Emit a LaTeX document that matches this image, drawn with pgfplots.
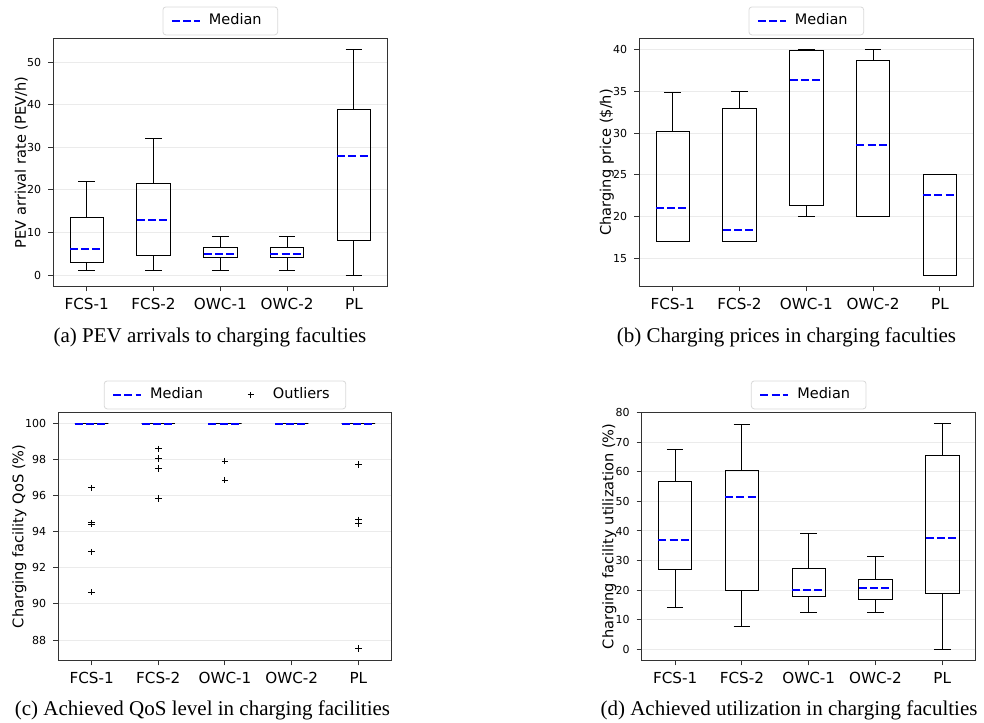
\documentclass[border=0pt]{standalone}
\usepackage{fontspec}
\setmainfont{Liberation Serif}
\newfontfamily\dejavu{DejaVu Sans}
\usepackage{pgfplots}
\pgfplotsset{compat=1.18}
\usepgfplotslibrary{statistics}

\pgfplotsset{
  bxp/.style={
    scale only axis, width=167pt, height=124pt, anchor=north west,
    xmin=0.5, xmax=5.5, xtick={1,2,3,4,5},
    xticklabels={FCS-1,FCS-2,OWC-1,OWC-2,PL},
    tick pos=left, tick align=outside, major tick length=2.5pt,
    tick style={black!80, line width=0.5pt},
    axis line style={black!80, line width=0.7pt},
    ymajorgrids, grid style={black!8, line width=0.5pt},
    /pgf/number format/assume math mode=true,
    xticklabel style={font=\dejavu\fontsize{7.6}{8}\selectfont},
    yticklabel style={font=\dejavu\fontsize{5.5}{6}\selectfont},
    ylabel style={font=\dejavu\fontsize{7.3}{8}\selectfont, anchor=center},
    legend style={at={(0.5,1.012)}, anchor=south, draw=black!15,
      rounded corners=1.5pt, font=\dejavu\fontsize{7.25}{8}\selectfont,
      inner xsep=4pt, inner ysep=1.5pt,
      nodes={inner xsep=4pt}},
    legend cell align=left,
  },
  bp/.style={forget plot, black, line width=0.5pt,
    boxplot prepared={draw direction=y, box extend=0.5, whisker extend=0.25,
      every median/.style={blue, line width=1pt, dash pattern=on 4pt off 1.6pt},
      #1}},
  medimg/.style={blue, line width=1pt, dash pattern=on 4pt off 1.6pt,
    legend image code/.code={\draw[##1] (0pt,0pt) -- (14pt,0pt);}},
  outimg/.style={black,
    legend image code/.code={\path[draw=none] (0pt,0pt) -- (14pt,0pt);
      \draw[black, solid, line width=0.5pt] (7pt,-1.6pt) -- (7pt,1.6pt) (5.4pt,0pt) -- (8.6pt,0pt);}},
}

\begin{document}
\begin{tikzpicture}
\useasboundingbox (0pt,0pt) rectangle (492pt,-361pt);

% (a) arrivals
\begin{axis}[bxp, at={(26.65pt,-19.15pt)},
  ymin=-2.65, ymax=55.65, ytick={0,10,...,50},
  ylabel={PEV arrival rate (PEV/h)},
  ylabel style={at={(axis description cs:-0.096,0.5)}}]
\addlegendimage{medimg}\addlegendentry{Median}
\addplot[bp={draw position=1, lower whisker=1, lower quartile=3.05, median=6.09, upper quartile=13.45, upper whisker=22}] coordinates {};
\addplot[bp={draw position=2, lower whisker=1, lower quartile=4.5, median=13, upper quartile=21.5, upper whisker=32}] coordinates {};
\addplot[bp={draw position=3, lower whisker=1, lower quartile=4.05, median=5, upper quartile=6.5, upper whisker=9}] coordinates {};
\addplot[bp={draw position=4, lower whisker=1, lower quartile=4.05, median=5, upper quartile=6.5, upper whisker=9}] coordinates {};
\addplot[bp={draw position=5, lower whisker=0, lower quartile=8.05, median=28.05, upper quartile=39, upper whisker=53}] coordinates {};
\end{axis}

% (b) prices
\begin{axis}[bxp, at={(319.65pt,-19.15pt)},
  ymin=11.65, ymax=41.35, ytick={15,20,...,40},
  ylabel={Charging price (\$/h)},
  ylabel style={at={(axis description cs:-0.097,0.5)}}]
\addlegendimage{medimg}\addlegendentry{Median}
\addplot[bp={draw position=1, lower whisker=17, lower quartile=17, median=21.0, upper quartile=30.18, upper whisker=34.9}] coordinates {};
\addplot[bp={draw position=2, lower whisker=17, lower quartile=17, median=18.44, upper quartile=33.0, upper whisker=35.0}] coordinates {};
\addplot[bp={draw position=3, lower whisker=20, lower quartile=21.35, median=36.4, upper quartile=39.9, upper whisker=40}] coordinates {};
\addplot[bp={draw position=4, lower whisker=20, lower quartile=20, median=28.62, upper quartile=38.72, upper whisker=40}] coordinates {};
\addplot[bp={draw position=5, lower whisker=13, lower quartile=13, median=22.63, upper quartile=25, upper whisker=25}] coordinates {};
\end{axis}

% (c) QoS
\begin{axis}[bxp, at={(29.15pt,-206.15pt)}, width=166.7pt,
  ymin=86.875, ymax=100.625, ytick={88,90,...,100},
  ylabel={Charging facility QoS (\%)},
  ylabel style={at={(axis description cs:-0.117,0.5)}},
  legend columns=2,
  legend style={/tikz/every even column/.append style={column sep=13pt}}]
\addlegendimage{medimg}\addlegendentry{Median}
\addlegendimage{outimg}\addlegendentry{Outliers}
\addplot[bp={draw position=1, lower whisker=100, lower quartile=100, median=100, upper quartile=100, upper whisker=100}] coordinates {};
\addplot[bp={draw position=2, lower whisker=100, lower quartile=100, median=100, upper quartile=100, upper whisker=100}] coordinates {};
\addplot[bp={draw position=3, lower whisker=100, lower quartile=100, median=100, upper quartile=100, upper whisker=100}] coordinates {};
\addplot[bp={draw position=4, lower whisker=100, lower quartile=100, median=100, upper quartile=100, upper whisker=100}] coordinates {};
\addplot[bp={draw position=5, lower whisker=100, lower quartile=100, median=100, upper quartile=100, upper whisker=100}] coordinates {};
\addplot[forget plot, black, only marks, mark=+, mark size=1.6pt, line width=0.5pt] coordinates {
 (1,96.43) (1,94.42) (1,94.49) (1,92.88) (1,90.65)
 (2,98.6) (2,98.07) (2,97.5) (2,95.84)
 (3,97.92) (3,96.87)
 (5,97.72) (5,94.66) (5,94.44) (5,87.52)};
\end{axis}

% (d) utilization
\begin{axis}[bxp, at={(320.85pt,-206.15pt)},
  ymin=-3.82, ymax=80.22, ytick={0,10,...,80},
  ylabel={Charging facility utilization (\%)},
  ylabel style={at={(axis description cs:-0.097,0.5)}}]
\addlegendimage{medimg}\addlegendentry{Median}
\addplot[bp={draw position=1, lower whisker=14.2, lower quartile=26.8, median=37.0, upper quartile=56.9, upper whisker=67.7}] coordinates {};
\addplot[bp={draw position=2, lower whisker=7.65, lower quartile=20.0, median=51.4, upper quartile=60.65, upper whisker=75.95}] coordinates {};
\addplot[bp={draw position=3, lower whisker=12.5, lower quartile=17.7, median=20.0, upper quartile=27.2, upper whisker=39.0}] coordinates {};
\addplot[bp={draw position=4, lower whisker=12.5, lower quartile=16.65, median=20.8, upper quartile=23.4, upper whisker=31.3}] coordinates {};
\addplot[bp={draw position=5, lower whisker=0, lower quartile=18.9, median=37.5, upper quartile=65.7, upper whisker=76.3}] coordinates {};
\end{axis}

% captions
\node[anchor=base, font=\fontsize{10.5}{12}\selectfont] at (105pt,-171pt) {(a) PEV arrivals to charging faculties};
\node[anchor=base, font=\fontsize{10.5}{12}\selectfont] at (393.25pt,-171pt) {(b) Charging prices in charging faculties};
\node[anchor=base, font=\fontsize{10.5}{12}\selectfont] at (101.25pt,-357.5pt) {(c) Achieved QoS level in charging facilities};
\node[anchor=base, font=\fontsize{10.5}{12}\selectfont] at (394.5pt,-357.5pt) {(d) Achieved utilization in charging faculties};
\end{tikzpicture}
\end{document}
